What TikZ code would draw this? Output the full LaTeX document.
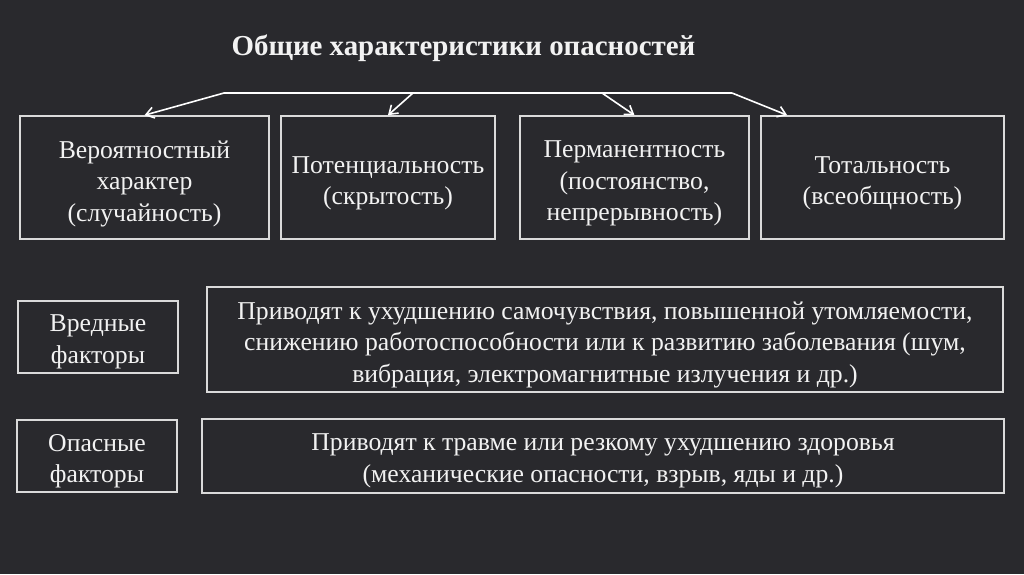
\documentclass[tikz,border=0pt]{standalone}
\usepackage{fontspec}
\setmainfont{Liberation Serif}
\usetikzlibrary{arrows.meta}
\definecolor{bg}{HTML}{29292D}
\definecolor{edge}{HTML}{DADADA}
\definecolor{txt}{HTML}{F2F2F2}
\begin{document}
\begin{tikzpicture}[x=1pt,y=-1pt,
  box/.style={draw=edge,line width=1.6pt,inner sep=0pt},
  label text/.style={text=txt,align=center,inner sep=0pt,
    font=\fontsize{25.7}{31.5}\selectfont},
  conn/.style={draw=white,line width=1.6pt},
  arr/.style={conn,-{Straight Barb[length=8pt,width=11pt]}}]
\fill[bg] (0,0) rectangle (1024,574);
\useasboundingbox (0,0) rectangle (1024,574);
\node[text=txt,font=\fontsize{28.9}{34}\selectfont\bfseries] (title) at (463.5,48) {Общие характеристики опасностей};
\node[box,minimum width=249pt,minimum height=123pt] (b1) at (144.5,177.5) {};
\node[box,minimum width=214pt,minimum height=123pt] (b2) at (388,177.5) {};
\node[box,minimum width=229pt,minimum height=123pt] (b3) at (634.5,177.5) {};
\node[box,minimum width=243pt,minimum height=123pt] (b4) at (882.5,177.5) {};
\node[box,minimum width=160pt,minimum height=72pt] (v) at (98,337) {};
\node[box,minimum width=796pt,minimum height=105pt] (vt) at (605,339.5) {};
\node[box,minimum width=160pt,minimum height=72pt] (o) at (97,456) {};
\node[box,minimum width=802pt,minimum height=74pt] (ot) at (603,456) {};
\node[label text] (b1l) at ([yshift=-6pt]b1.center) {Вероятностный\\характер\\(случайность)};
\node[label text] (b2l) at ([yshift=-6pt]b2.center) {Потенциальность\\(скрытость)};
\node[label text] (b3l) at ([yshift=-6pt]b3.center) {Перманентность\\(постоянство,\\непрерывность)};
\node[label text] (b4l) at ([yshift=-6pt]b4.center) {Тотальность\\(всеобщность)};
\node[label text] (vl) at ([yshift=-5pt]v.center) {Вредные\\факторы};
\node[label text] (vtl) at ([yshift=-5pt]vt.center) {Приводят к ухудшению самочувствия, повышенной утомляемости,\\снижению работоспособности или к развитию заболевания (шум,\\вибрация, электромагнитные излучения и др.)};
\node[label text] (ol) at ([yshift=-5pt]o.center) {Опасные\\факторы};
\node[label text] (otl) at ([yshift=-5pt]ot.center) {Приводят к травме или резкому ухудшению здоровья\\(механические опасности, взрыв, яды и др.)};
\coordinate (L) at (224,93);
\coordinate (R) at (732,93);
\coordinate (m2) at (413,93);
\coordinate (m3) at (602,93);
\coordinate (t4) at ([xshift=27pt]b4.north west);
\draw[conn] (L) -- (R);
\draw[arr] (L) -- (b1.north);
\draw[arr] (m2) -- (b2.north);
\draw[arr] (m3) -- (b3.north);
\draw[arr] (R) -- (t4);
\end{tikzpicture}
\end{document}
